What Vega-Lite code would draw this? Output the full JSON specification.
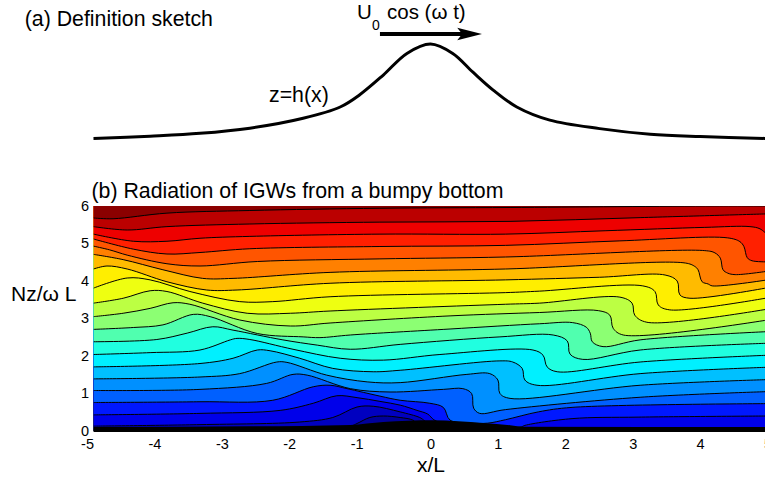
{"$schema":"https://vega.github.io/schema/vega-lite/v6.json","padding":{"left":9.5,"top":0,"right":0,"bottom":0},"background":"white","config":{"font":"Liberation Sans","view":{"stroke":null},"axis":{"labelOverlap":false,"labelSeparation":0}},
"datasets":{
"bump":[{"x":-5,"z":-0.005},{"x":-4.16,"z":0.02},{"x":-3.42,"z":0.05},{"x":-2.68,"z":0.105},{"x":-1.89,"z":0.21},{"x":-1.34,"z":0.33},{"x":-1.05,"z":0.46},{"x":-0.7,"z":0.67},{"x":-0.35,"z":0.9},{"x":0,"z":1},{"x":0.33,"z":0.9},{"x":0.63,"z":0.7},{"x":0.93,"z":0.51},{"x":1.28,"z":0.33},{"x":1.77,"z":0.19},{"x":2.51,"z":0.1},{"x":3.26,"z":0.04},{"x":4,"z":0.015},{"x":5,"z":-0.005}],
"hill":[{"x":-5,"y":0.107},{"x":-2.68,"y":0.126},{"x":-1.19,"y":0.163},{"x":-0.7,"y":0.24},{"x":0.04,"y":0.286},{"x":0.78,"y":0.214},{"x":1.18,"y":0.152},{"x":1.4,"y":0.112},{"x":5,"y":0.107}],
"contours":[
{"level":0,"x":-5,"y":0},{"level":0,"x":5,"y":0},
{"level":1,"x":-5,"y":0.05},{"level":1,"x":-1.19,"y":0.13},{"level":1,"x":-1.09,"y":0.2},{"level":1,"x":-0.9,"y":0.36},{"level":1,"x":-0.7,"y":0.4},{"level":1,"x":-0.45,"y":0.36},{"level":1,"x":-0.26,"y":0.29},{"level":1,"x":-0.16,"y":0.15},{"level":1,"x":5,"y":0.05},
{"level":2,"x":-5,"y":0.13},{"level":2,"x":-3.42,"y":0.17},{"level":2,"x":-1.94,"y":0.24},{"level":2,"x":-1.45,"y":0.36},{"level":2,"x":-1.09,"y":0.64},{"level":2,"x":-0.85,"y":0.66},{"level":2,"x":-0.45,"y":0.51},{"level":2,"x":-0.16,"y":0.36},{"level":2,"x":-0.1,"y":0.29},{"level":2,"x":-0.01,"y":0.15},{"level":2,"x":1.33,"y":0.09},{"level":2,"x":5,"y":0.07},
{"level":3,"x":-5,"y":0.43},{"level":3,"x":-3.42,"y":0.47},{"level":3,"x":-2.23,"y":0.55},{"level":3,"x":-1.74,"y":0.74},{"level":3,"x":-1.39,"y":0.94},{"level":3,"x":-1.09,"y":0.89},{"level":3,"x":-0.75,"y":0.79},{"level":3,"x":-0.45,"y":0.69},{"level":3,"x":-0.2,"y":0.55},{"level":3,"x":-0.04,"y":0.45},{"level":3,"x":0.05,"y":0.3},{"level":3,"x":0.22,"y":0.18},{"level":3,"x":1.33,"y":0.1},{"level":3,"x":1.4,"y":0.15},{"level":3,"x":2.1,"y":0.33},{"level":3,"x":3.08,"y":0.37},{"level":3,"x":5,"y":0.4},
{"level":4,"x":-5,"y":0.76},{"level":4,"x":-3.42,"y":0.78},{"level":4,"x":-2.34,"y":0.82},{"level":4,"x":-1.74,"y":1.18},{"level":4,"x":-1.49,"y":1.22},{"level":4,"x":-1.24,"y":1.13},{"level":4,"x":-0.75,"y":0.93},{"level":4,"x":-0.45,"y":0.82},{"level":4,"x":-0.01,"y":0.74},{"level":4,"x":0.19,"y":0.63},{"level":4,"x":0.29,"y":0.29},{"level":4,"x":0.59,"y":0.21},{"level":4,"x":0.85,"y":0.21},{"level":4,"x":1.11,"y":0.3},{"level":4,"x":1.6,"y":0.51},{"level":4,"x":2.1,"y":0.63},{"level":4,"x":5,"y":0.73},
{"level":5,"x":-5,"y":1.08},{"level":5,"x":-3.42,"y":1.11},{"level":5,"x":-2.43,"y":1.27},{"level":5,"x":-2.04,"y":1.51},{"level":5,"x":-1.83,"y":1.49},{"level":5,"x":-1.19,"y":1.13},{"level":5,"x":-0.6,"y":1.04},{"level":5,"x":0.19,"y":1.11},{"level":5,"x":0.48,"y":1.13},{"level":5,"x":0.61,"y":1},{"level":5,"x":0.64,"y":0.61},{"level":5,"x":0.73,"y":0.47},{"level":5,"x":1.11,"y":0.57},{"level":5,"x":3.11,"y":0.9},{"level":5,"x":5,"y":1.05},
{"level":6,"x":-5,"y":1.39},{"level":6,"x":-3.42,"y":1.44},{"level":6,"x":-2.83,"y":1.53},{"level":6,"x":-2.28,"y":1.84},{"level":6,"x":-2.13,"y":1.83},{"level":6,"x":-1.54,"y":1.49},{"level":6,"x":-0.94,"y":1.31},{"level":6,"x":-0.45,"y":1.29},{"level":6,"x":0.54,"y":1.51},{"level":6,"x":0.88,"y":1.53},{"level":6,"x":1,"y":1.36},{"level":6,"x":1.03,"y":1},{"level":6,"x":1.18,"y":0.87},{"level":6,"x":3.11,"y":1.22},{"level":6,"x":5,"y":1.37},
{"level":7,"x":-5,"y":1.71},{"level":7,"x":-3.42,"y":1.8},{"level":7,"x":-2.93,"y":1.94},{"level":7,"x":-2.57,"y":2.16},{"level":7,"x":-2.38,"y":2.14},{"level":7,"x":-1.94,"y":1.94},{"level":7,"x":-1.45,"y":1.67},{"level":7,"x":-0.85,"y":1.58},{"level":7,"x":-0.45,"y":1.62},{"level":7,"x":1.03,"y":1.87},{"level":7,"x":1.22,"y":1.84},{"level":7,"x":1.36,"y":1.67},{"level":7,"x":1.4,"y":1.36},{"level":7,"x":1.58,"y":1.22},{"level":7,"x":3.11,"y":1.53},{"level":7,"x":5,"y":1.7},
{"level":8,"x":-5,"y":2.04},{"level":8,"x":-4.16,"y":2.09},{"level":8,"x":-3.42,"y":2.16},{"level":8,"x":-2.97,"y":2.43},{"level":8,"x":-2.87,"y":2.47},{"level":8,"x":-2.68,"y":2.44},{"level":8,"x":-2.04,"y":2.18},{"level":8,"x":-1.34,"y":1.94},{"level":8,"x":-0.7,"y":1.89},{"level":8,"x":0.14,"y":2.04},{"level":8,"x":1.52,"y":2.16},{"level":8,"x":1.67,"y":2.02},{"level":8,"x":1.73,"y":1.71},{"level":8,"x":1.88,"y":1.58},{"level":8,"x":3.11,"y":1.84},{"level":8,"x":5,"y":2.02},
{"level":9,"x":-5,"y":2.38},{"level":9,"x":-4.06,"y":2.44},{"level":9,"x":-3.61,"y":2.61},{"level":9,"x":-3.23,"y":2.78},{"level":9,"x":-2.93,"y":2.69},{"level":9,"x":-2.19,"y":2.43},{"level":9,"x":-1.68,"y":2.29},{"level":9,"x":-1.19,"y":2.18},{"level":9,"x":-0.45,"y":2.31},{"level":9,"x":1.03,"y":2.51},{"level":9,"x":1.82,"y":2.56},{"level":9,"x":2.03,"y":2.4},{"level":9,"x":2.07,"y":2.05},{"level":9,"x":2.26,"y":1.91},{"level":9,"x":3.11,"y":2.16},{"level":9,"x":5,"y":2.34},
{"level":10,"x":-5,"y":2.71},{"level":10,"x":-4.41,"y":2.76},{"level":10,"x":-3.97,"y":2.83},{"level":10,"x":-3.52,"y":3.11},{"level":10,"x":-3.27,"y":3.05},{"level":10,"x":-2.57,"y":2.6},{"level":10,"x":-1.89,"y":2.51},{"level":10,"x":-1.64,"y":2.49},{"level":10,"x":-1.19,"y":2.56},{"level":10,"x":0.29,"y":2.72},{"level":10,"x":1.62,"y":2.86},{"level":10,"x":2.11,"y":2.89},{"level":10,"x":2.31,"y":2.77},{"level":10,"x":2.37,"y":2.61},{"level":10,"x":2.4,"y":2.38},{"level":10,"x":2.56,"y":2.25},{"level":10,"x":3.11,"y":2.43},{"level":10,"x":5,"y":2.65},
{"level":11,"x":-5,"y":3.05},{"level":11,"x":-4.56,"y":3.14},{"level":11,"x":-4.16,"y":3.27},{"level":11,"x":-3.82,"y":3.42},{"level":11,"x":-3.57,"y":3.38},{"level":11,"x":-2.83,"y":2.96},{"level":11,"x":-2.08,"y":2.8},{"level":11,"x":-1.49,"y":2.88},{"level":11,"x":0.29,"y":3.07},{"level":11,"x":1.62,"y":3.16},{"level":11,"x":2.49,"y":3.21},{"level":11,"x":2.66,"y":3.09},{"level":11,"x":2.71,"y":2.74},{"level":11,"x":2.86,"y":2.56},{"level":11,"x":5,"y":2.96},
{"level":12,"x":-5,"y":3.41},{"level":12,"x":-4.56,"y":3.54},{"level":12,"x":-4.16,"y":3.74},{"level":12,"x":-3.91,"y":3.72},{"level":12,"x":-3.38,"y":3.41},{"level":12,"x":-2.72,"y":3.14},{"level":12,"x":-2.08,"y":3.14},{"level":12,"x":-1.49,"y":3.2},{"level":12,"x":1.11,"y":3.38},{"level":12,"x":1.62,"y":3.41},{"level":12,"x":2.81,"y":3.57},{"level":12,"x":2.99,"y":3.41},{"level":12,"x":3.03,"y":3.09},{"level":12,"x":3.21,"y":2.9},{"level":12,"x":5,"y":3.25},
{"level":13,"x":-5,"y":3.81},{"level":13,"x":-4.5,"y":4.08},{"level":13,"x":-4.16,"y":4.03},{"level":13,"x":-3.57,"y":3.72},{"level":13,"x":-2.83,"y":3.45},{"level":13,"x":-2.34,"y":3.45},{"level":13,"x":-1.49,"y":3.58},{"level":13,"x":1.11,"y":3.69},{"level":13,"x":1.62,"y":3.73},{"level":13,"x":3.15,"y":3.87},{"level":13,"x":3.33,"y":3.72},{"level":13,"x":3.38,"y":3.36},{"level":13,"x":3.55,"y":3.23},{"level":13,"x":5,"y":3.55},
{"level":14,"x":-5,"y":4.32},{"level":14,"x":-4.8,"y":4.4},{"level":14,"x":-4.5,"y":4.32},{"level":14,"x":-3.91,"y":3.98},{"level":14,"x":-3.32,"y":3.76},{"level":14,"x":-2.87,"y":3.76},{"level":14,"x":-1.49,"y":3.94},{"level":14,"x":1.11,"y":4.03},{"level":14,"x":2.51,"y":4.1},{"level":14,"x":3.48,"y":4.16},{"level":14,"x":3.66,"y":4},{"level":14,"x":3.7,"y":3.63},{"level":14,"x":3.85,"y":3.54},{"level":14,"x":5,"y":3.82},
{"level":15,"x":-5,"y":4.71},{"level":15,"x":-4.56,"y":4.57},{"level":15,"x":-3.97,"y":4.3},{"level":15,"x":-3.38,"y":4.07},{"level":15,"x":-2.93,"y":4.07},{"level":15,"x":-1.49,"y":4.23},{"level":15,"x":1.11,"y":4.32},{"level":15,"x":3.78,"y":4.48},{"level":15,"x":3.92,"y":4.39},{"level":15,"x":3.97,"y":4.3},{"level":15,"x":4.03,"y":3.98},{"level":15,"x":4.12,"y":3.92},{"level":15,"x":4.18,"y":3.87},{"level":15,"x":5,"y":4.03},
{"level":16,"x":-5,"y":4.93},{"level":16,"x":-4.76,"y":4.83},{"level":16,"x":-4.5,"y":4.69},{"level":16,"x":-3.91,"y":4.46},{"level":16,"x":-3.42,"y":4.4},{"level":16,"x":-2.57,"y":4.52},{"level":16,"x":-0.75,"y":4.59},{"level":16,"x":1.11,"y":4.64},{"level":16,"x":4.07,"y":4.81},{"level":16,"x":4.22,"y":4.75},{"level":16,"x":4.3,"y":4.61},{"level":16,"x":4.34,"y":4.3},{"level":16,"x":4.41,"y":4.21},{"level":16,"x":4.52,"y":4.17},{"level":16,"x":5,"y":4.26},
{"level":17,"x":-5,"y":5.12},{"level":17,"x":-4.41,"y":4.85},{"level":17,"x":-3.91,"y":4.72},{"level":17,"x":-3.42,"y":4.76},{"level":17,"x":-2.68,"y":4.86},{"level":17,"x":-0.75,"y":4.92},{"level":17,"x":1.11,"y":4.95},{"level":17,"x":2.81,"y":5.07},{"level":17,"x":4.41,"y":5.15},{"level":17,"x":4.59,"y":5.05},{"level":17,"x":4.65,"y":4.92},{"level":17,"x":4.7,"y":4.62},{"level":17,"x":4.77,"y":4.54},{"level":17,"x":5,"y":4.51},
{"level":18,"x":-5,"y":5.25},{"level":18,"x":-4.41,"y":5.06},{"level":18,"x":-3.91,"y":5.06},{"level":18,"x":-3.42,"y":5.14},{"level":18,"x":-2.68,"y":5.19},{"level":18,"x":-0.75,"y":5.25},{"level":18,"x":1.11,"y":5.25},{"level":18,"x":2.59,"y":5.34},{"level":18,"x":4.07,"y":5.43},{"level":18,"x":4.74,"y":5.45},{"level":18,"x":4.89,"y":5.39},{"level":18,"x":5,"y":5.23},
{"level":19,"x":-5,"y":5.45},{"level":19,"x":-4.5,"y":5.36},{"level":19,"x":-3.91,"y":5.45},{"level":19,"x":-2.68,"y":5.52},{"level":19,"x":-0.75,"y":5.57},{"level":19,"x":1.18,"y":5.59},{"level":19,"x":3.11,"y":5.69},{"level":19,"x":5,"y":5.79},
{"level":20,"x":-5,"y":5.68},{"level":20,"x":-4.71,"y":5.66},{"level":20,"x":-3.91,"y":5.81},{"level":20,"x":-2.68,"y":5.88},{"level":20,"x":-0.75,"y":5.94},{"level":20,"x":1.18,"y":5.96},{"level":20,"x":4.22,"y":6},{"level":20,"x":5,"y":6}
]},
"vconcat":[
{"width":674,"height":165,"layer":[
{"data":{"name":"bump"},"mark":{"type":"line","color":"black","strokeWidth":3,"interpolate":"catmull-rom"},"encoding":{"x":{"field":"x","type":"quantitative","scale":{"domain":[-5,5],"nice":false,"zero":false},"axis":null},"y":{"field":"z","type":"quantitative","scale":{"domain":[-0.287,1.468],"nice":false,"zero":false},"axis":null}}},
{"data":{"values":[{"x":-0.75,"x2":0.5,"z":1.106}]},"mark":{"type":"rule","color":"black","strokeWidth":4},"encoding":{"x":{"field":"x","type":"quantitative"},"x2":{"field":"x2"},"y":{"field":"z","type":"quantitative"}}},
{"data":{"values":[{"x":0.58,"z":1.106}]},"mark":{"type":"point","filled":true,"color":"black","opacity":1,"size":612,"shape":"M -1 -0.5 L 1 0 L -1 0.5 L -0.6 0 Z"},"encoding":{"x":{"field":"x","type":"quantitative"},"y":{"field":"z","type":"quantitative"}}},
{"data":{"values":[{"x":-6.02,"z":1.19,"label":"(a) Definition sketch"},{"x":-2.396,"z":0.385,"label":"z=h(x)"}]},"mark":{"type":"text","align":"left","baseline":"alphabetic","fontSize":21.3,"color":"black"},"encoding":{"x":{"field":"x","type":"quantitative"},"y":{"field":"z","type":"quantitative"},"text":{"field":"label"}}},
{"data":{"values":[{"x":-0.645,"z":1.266,"label":"cos (ω t)"}]},"mark":{"type":"text","align":"left","baseline":"alphabetic","fontSize":20.5,"color":"black"},"encoding":{"x":{"field":"x","type":"quantitative"},"y":{"field":"z","type":"quantitative"},"text":{"field":"label"}}},
{"data":{"values":[{"x":-1.09,"z":1.266,"label":"U"}]},"mark":{"type":"text","align":"left","baseline":"alphabetic","fontSize":20.5,"color":"black"},"encoding":{"x":{"field":"x","type":"quantitative"},"y":{"field":"z","type":"quantitative"},"text":{"field":"label"}}},
{"data":{"values":[{"x":-0.868,"z":1.149,"label":"0"}]},"mark":{"type":"text","align":"left","baseline":"alphabetic","fontSize":14,"color":"black"},"encoding":{"x":{"field":"x","type":"quantitative"},"y":{"field":"z","type":"quantitative"},"text":{"field":"label"}}}
]},
{"width":674,"height":225,"view":{"stroke":"black"},"title":{"text":"(b) Radiation of IGWs from a bumpy bottom","anchor":"start","frame":"group","fontSize":21.3,"fontWeight":"normal","color":"black","offset":-4,"dx":-2},
"encoding":{"y":{"field":"y","type":"quantitative","scale":{"domain":[0,6],"nice":false,"zero":false},"axis":{"values":[0,1,2,3,4,5,6],"tickCount":7,"labelExpr":"'' + datum.value","labelOverlap":false,"labelSeparation":0,"labelBound":false,"labelFlush":false,"grid":false,"ticks":false,"domain":true,"domainColor":"black","labelFontSize":14.5,"labelColor":"black","labelPadding":5,"title":"Nz/ω L","titleAngle":0,"titleAlign":"left","titleBaseline":"alphabetic","titleFontSize":21,"titleFontWeight":"normal","titleColor":"black","titleX":-83,"titleY":94}}},
"layer":[
{"data":{"name":"contours"},"mark":{"type":"area","interpolate":"catmull-rom","clip":true},"encoding":{"x":{"field":"x","type":"quantitative","scale":{"domain":[-5,5],"nice":false,"zero":false},"axis":{"values":[-5,-4,-3,-2,-1,0,1,2,3,4,5],"labelExpr":"'' + datum.value","grid":false,"ticks":false,"domain":false,"labelFontSize":14.5,"labelColor":"black","labelPadding":6,"labelOverlap":false,"labelBound":false,"labelFlush":false,"labelAlign":{"condition":{"test":"datum.value < 0","value":"right"},"value":"center"},"title":"x/L","titleFontSize":21,"titleFontWeight":"normal","titleColor":"black","titleY":40,"titleBaseline":"alphabetic"}},"y2":{"datum":6},"color":{"field":"level","type":"ordinal","legend":null,"scale":{"domain":[0,1,2,3,4,5,6,7,8,9,10,11,12,13,14,15,16,17,18,19,20],"range":["#00009a","#0000c0","#0000ea","#0018ff","#0060ff","#0090ff","#00c0ff","#00f0ff","#20ffe0","#50ffaf","#8cff73","#bcff43","#eeff11","#ffee00","#ffbb00","#ff8000","#ff5500","#ff2000","#ee0000","#bb0000","#8b0000"]}}}},
{"data":{"name":"contours"},"mark":{"type":"line","interpolate":"catmull-rom","color":"black","strokeWidth":1,"clip":true},"encoding":{"x":{"field":"x","type":"quantitative"},"detail":{"field":"level","type":"ordinal"}}},
{"data":{"name":"hill"},"mark":{"type":"area","color":"black","interpolate":"monotone","clip":true},"encoding":{"x":{"field":"x","type":"quantitative"},"y2":{"datum":0}}}
]}
],"spacing":41,"bounds":"flush","resolve":{"scale":{"x":"independent"}}}
